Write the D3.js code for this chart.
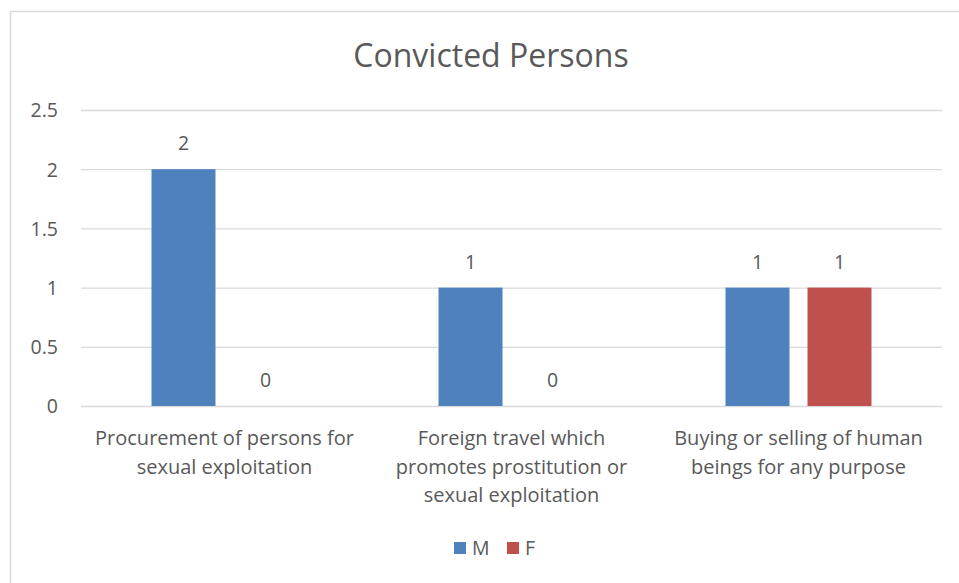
<!DOCTYPE html>
<html><head><meta charset="utf-8">
<script src="https://cdn.jsdelivr.net/npm/d3@7"></script>
<style>body{margin:0;background:#fff;} text{font-family:"Open Sans","Liberation Sans",sans-serif;fill:#595959;}</style>
</head><body>
<svg id="c" width="959" height="583"></svg>
<script>
const categories = [
  ["Procurement of persons for", "sexual exploitation"],
  ["Foreign travel which", "promotes prostitution or", "sexual exploitation"],
  ["Buying or selling of human", "beings for any purpose"]
];
const seriesNames = ["M", "F"];
const valuesM = [2, 1, 1];
const valuesF = [0, 0, 1];
const yTicks = [0, 0.5, 1, 1.5, 2, 2.5];
const colors = ["#4f81bd", "#c0504d"];

(function(){
const svg = d3.select("#c");
svg.append("rect").attr("x",10.5).attr("y",11.5).attr("width",960).attr("height",600)
  .attr("fill","#fff").attr("stroke","#d9d9d9").attr("stroke-width",1.5);

const pLeft=81, pRight=942, pTop=110, pBottom=406;
const x = d3.scaleBand().domain(d3.range(categories.length)).range([pLeft,pRight]);
const y = d3.scaleLinear().domain([0,2.5]).range([pBottom,pTop]);

svg.append("g").selectAll("line").data(yTicks).join("line")
  .attr("x1",pLeft).attr("x2",pRight).attr("y1",d=>y(d)+0.5).attr("y2",d=>y(d)+0.5)
  .attr("stroke","#d9d9d9").attr("stroke-width",1.3);

const yAxis = d3.axisLeft(y).tickValues(yTicks).tickSize(0).tickPadding(0).tickFormat(d3.format("~g"));
const ya = svg.append("g").attr("transform",`translate(58,0)`).call(yAxis);
ya.select(".domain").remove();
ya.selectAll("text").style("font-size","19.5px").attr("fill","#595959").attr("dy","0.35em");

const offsets = [-41, 41];
const barW = 64;
const series = [valuesM, valuesF];
series.forEach((vals, si) => {
  const g = svg.append("g");
  g.selectAll("rect").data(vals).join("rect")
    .attr("x",(d,i)=>x(i)+x.bandwidth()/2+offsets[si]-barW/2)
    .attr("width",barW)
    .attr("y",d=>y(d)).attr("height",d=>y(0)-y(d))
    .attr("fill",colors[si]);
  g.selectAll("text").data(vals).join("text")
    .attr("x",(d,i)=>x(i)+x.bandwidth()/2+offsets[si])
    .attr("y",d=>y(d)-19)
    .attr("text-anchor","middle").style("font-size","19.5px")
    .text(d=>d);
});

categories.forEach((lines,i)=>{
  const t = svg.append("text").attr("text-anchor","middle").style("font-size","20px");
  lines.forEach((ln,j)=>{
    t.append("tspan").attr("x",x(i)+x.bandwidth()/2).attr("y",445+j*28.5).text(ln);
  });
});

svg.append("text").attr("x",491).attr("y",67).attr("text-anchor","middle")
  .style("font-size","32px").text("Convicted Persons");

const lg = svg.append("g");
const lx = [454, 507];
seriesNames.forEach((n,i)=>{
  lg.append("rect").attr("x",lx[i]).attr("y",542).attr("width",12).attr("height",12).attr("fill",colors[i]);
  lg.append("text").attr("x",lx[i]+18).attr("y",555).style("font-size","19.5px").text(n);
});
})();
</script>
</body></html>
